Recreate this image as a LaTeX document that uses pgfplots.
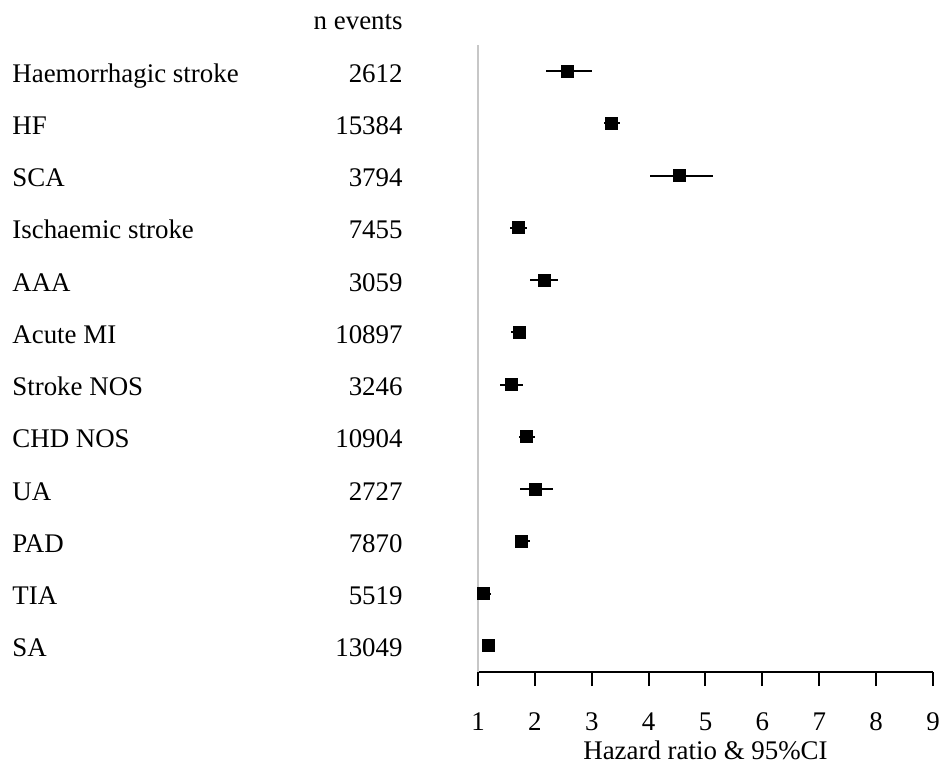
\documentclass[border=0pt]{standalone}
\usepackage{pgfplots}
\pgfplotsset{compat=1.18}
\usepackage{pgfplotstable}
\usepackage{fontspec}
\setmainfont{Liberation Serif}

\pgfplotstableread{
row hr lo hi
12 2.58 2.20 3.01
11 3.35 3.22 3.50
10 4.54 4.02 5.13
9 1.71 1.57 1.87
8 2.16 1.92 2.41
7 1.72 1.58 1.85
6 1.58 1.39 1.80
5 1.85 1.72 2.01
4 2.01 1.74 2.32
3 1.77 1.65 1.92
2 1.10 1.01 1.22
1 1.18 1.12 1.25
}\hrdata

\newcommand\rowlab[3]{%
  \node[anchor=base west, inner sep=0pt] at ([xshift=-233pt, yshift=-5.5pt]axis cs:1,#1) {#2};
  \node[anchor=base east, inner sep=0pt] at ([xshift=-37.5pt, yshift=-5.5pt]axis cs:1,#1) {#3};
}

\begin{document}
\begin{tikzpicture}[font=\fontsize{13.45}{16}\selectfont]
\useasboundingbox (-239pt,-46.5pt) rectangle (232pt,336pt);
\begin{axis}[
  at={(0,0)}, anchor=south west,
  scale only axis, width=227.5pt, height=313.5pt,
  xmin=1, xmax=9, ymin=0.5, ymax=12.5,
  axis x line=bottom, axis y line=left,
  x axis line style={black, line width=1pt, -},
  y axis line style={black!22, line width=0.7pt, -},
  xtick={1,...,9}, ytick=\empty,
  tick align=outside, major tick length=7pt,
  x tick style={black, line width=1pt},
  xticklabel style={anchor=base, yshift=-22pt, inner sep=0pt},
  /pgf/number format/assume math mode=true,
  xlabel={Hazard ratio \& 95\%CI},
  xlabel style={at={(axis description cs:0.5,0)}, anchor=base, yshift=-43.5pt, inner sep=0pt},
  clip=false,
]
\addplot[only marks, mark=square*, mark size=3pt, black,
  error bars/.cd, x dir=both, x explicit, error mark=none,
  error bar style={line width=1pt, black}]
  table[x=hr, y=row,
        x error plus expr=\thisrow{hi}-\thisrow{hr},
        x error minus expr=\thisrow{hr}-\thisrow{lo}] {\hrdata};

\node[anchor=base east, inner sep=0pt] at ([xshift=-37.5pt, yshift=-5.5pt]axis cs:1,13) {n events};
\rowlab{12}{Haemorrhagic stroke}{2612}
\rowlab{11}{HF}{15384}
\rowlab{10}{SCA}{3794}
\rowlab{9}{Ischaemic stroke}{7455}
\rowlab{8}{AAA}{3059}
\rowlab{7}{Acute MI}{10897}
\rowlab{6}{Stroke NOS}{3246}
\rowlab{5}{CHD NOS}{10904}
\rowlab{4}{UA}{2727}
\rowlab{3}{PAD}{7870}
\rowlab{2}{TIA}{5519}
\rowlab{1}{SA}{13049}
\end{axis}
\end{tikzpicture}
\end{document}
